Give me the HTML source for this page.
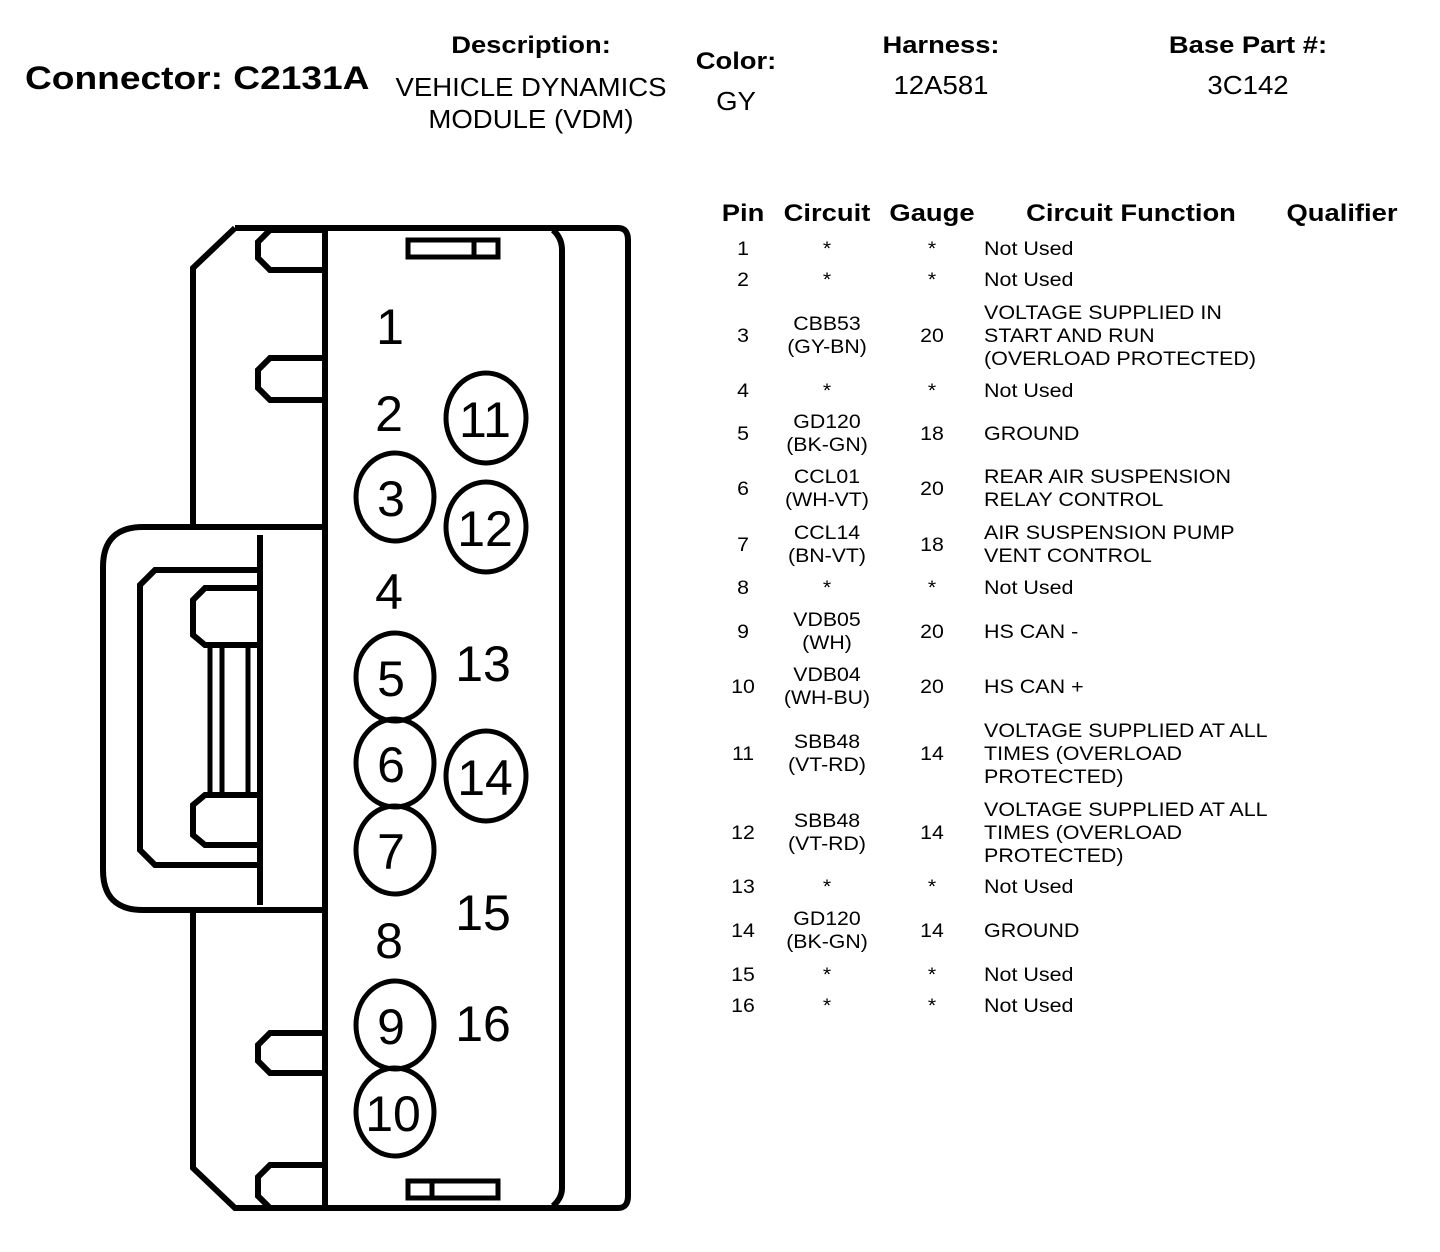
<!DOCTYPE html>
<html><head><style>
body{margin:0;background:#fff;width:1440px;height:1252px;position:relative;font-family:"Liberation Sans",sans-serif;color:#000;overflow:hidden}
.t{position:absolute;white-space:nowrap;line-height:1}
.b{font-weight:bold}
.c{transform:translateX(-50%) scaleX(1.14);text-align:center}
.c2{transform:translateX(-50%) scaleX(1.06);text-align:center}
.l{transform-origin:0 0;transform:scaleX(1.16)}
.r{position:absolute;font-size:19px;line-height:23px;white-space:nowrap}
</style></head><body>
<div class="t b l" style="left:25px;top:62px;font-size:32px">Connector: C2131A</div>
<div class="t b c" style="left:531px;top:34px;font-size:24px">Description:</div>
<div class="t c2" style="left:531px;top:71px;font-size:26px;line-height:32px">VEHICLE DYNAMICS<br>MODULE (VDM)</div>
<div class="t b c" style="left:736px;top:50px;font-size:24px">Color:</div>
<div class="t c2" style="left:736px;top:88px;font-size:26px">GY</div>
<div class="t b c" style="left:941px;top:34px;font-size:24px">Harness:</div>
<div class="t c2" style="left:941px;top:72px;font-size:26px">12A581</div>
<div class="t b c" style="left:1248px;top:34px;font-size:24px">Base Part #:</div>
<div class="t c2" style="left:1248px;top:72px;font-size:26px">3C142</div>

<svg style="position:absolute;left:0;top:0" width="700" height="1252" fill="none" stroke="#000" stroke-width="6">
<path d="M235,228 H618 Q628,228 628,240 V1196 Q628,1208 618,1208 H235 L193,1168 V910 M193,527 V268 L235,228"/>
<line x1="325" y1="228" x2="325" y2="1208"/>
<path d="M553,230 Q562,238 562,250 V1188 Q562,1198 553,1206"/>
<path d="M325,527 H143 Q103,527 103,567 V870 Q103,910 143,910 H325"/>
<path d="M260,535 V905 M260,570 H155 L140,585 V850 L155,865 H260"/>
<path d="M260,588 H205 L193,600 V635 L205,645 H260 M260,795 H205 L193,805 V835 L205,845 H260"/>
<path d="M210,645 V795 M222,645 V795 M248,645 V795" stroke-width="5"/>
<path d="M325,230 H270 L258,242 V258 L270,270 H325 M325,358 H270 L258,370 V388 L270,400 H325 M325,1033 H270 L258,1045 V1061 L270,1073 H325 M325,1165 H270 L258,1177 V1196 L270,1208"/>
<rect x="408" y="240" width="90" height="17" stroke-width="5"/><line x1="474" y1="240" x2="474" y2="257" stroke-width="5"/>
<rect x="408" y="1181" width="90" height="17" stroke-width="5"/><line x1="432" y1="1181" x2="432" y2="1198" stroke-width="5"/>
<g stroke-width="5">
<ellipse cx="395" cy="497" rx="39" ry="44"/>
<ellipse cx="486" cy="418" rx="40" ry="45"/>
<ellipse cx="486" cy="527" rx="40" ry="45"/>
<ellipse cx="395" cy="677" rx="39" ry="44"/>
<ellipse cx="395" cy="763" rx="39" ry="44"/>
<ellipse cx="486" cy="776" rx="40" ry="45"/>
<ellipse cx="395" cy="850" rx="39" ry="44"/>
<ellipse cx="395" cy="1025" rx="39" ry="44"/>
<ellipse cx="395" cy="1112" rx="39" ry="44"/>
</g>
<g fill="#000" stroke="none" font-family="Liberation Sans, sans-serif" font-size="50" text-anchor="middle">
<text x="390" y="344">1</text><text x="389" y="431">2</text><text x="391" y="516">3</text>
<text x="389" y="609">4</text><text x="391" y="696">5</text><text x="391" y="782">6</text>
<text x="391" y="869">7</text><text x="389" y="958">8</text><text x="391" y="1044">9</text>
<text x="393" y="1131">10</text><text x="485" y="437">11</text><text x="485" y="546">12</text>
<text x="483" y="681">13</text><text x="485" y="795">14</text><text x="483" y="930">15</text><text x="483" y="1041">16</text>
</g>
</svg>

<div class="t b c" style="left:743px;top:202px;font-size:24px">Pin</div>
<div class="t b c" style="left:827px;top:202px;font-size:24px">Circuit</div>
<div class="t b c" style="left:932px;top:202px;font-size:24px">Gauge</div>
<div class="t b c" style="left:1131px;top:202px;font-size:24px">Circuit Function</div>
<div class="t b c" style="left:1342px;top:202px;font-size:24px">Qualifier</div>

<div id="rows"></div>
<script>
var R=[
[249,"1","*","*","Not Used"],
[280,"2","*","*","Not Used"],
[336,"3","CBB53<br>(GY-BN)","20","VOLTAGE SUPPLIED IN<br>START AND RUN<br>(OVERLOAD PROTECTED)"],
[391,"4","*","*","Not Used"],
[434,"5","GD120<br>(BK-GN)","18","GROUND"],
[489,"6","CCL01<br>(WH-VT)","20","REAR AIR SUSPENSION<br>RELAY CONTROL"],
[545,"7","CCL14<br>(BN-VT)","18","AIR SUSPENSION PUMP<br>VENT CONTROL"],
[588,"8","*","*","Not Used"],
[632,"9","VDB05<br>(WH)","20","HS CAN -"],
[687,"10","VDB04<br>(WH-BU)","20","HS CAN +"],
[754,"11","SBB48<br>(VT-RD)","14","VOLTAGE SUPPLIED AT ALL<br>TIMES (OVERLOAD<br>PROTECTED)"],
[833,"12","SBB48<br>(VT-RD)","14","VOLTAGE SUPPLIED AT ALL<br>TIMES (OVERLOAD<br>PROTECTED)"],
[887,"13","*","*","Not Used"],
[931,"14","GD120<br>(BK-GN)","14","GROUND"],
[975,"15","*","*","Not Used"],
[1006,"16","*","*","Not Used"]];
var h="";
R.forEach(function(r){
 function cell(x,txt,center){var n=txt.split("<br>").length;var top=r[0]-n*23/2;
  return '<div class="r" style="left:'+x+'px;top:'+top+'px;'+(center?'transform:translateX(-50%) scaleX(1.12);text-align:center':'transform-origin:0 0;transform:scaleX(1.13)')+'">'+txt+'</div>';}
 h+=cell(743,r[1],1)+cell(827,r[2],1)+cell(932,r[3],1)+cell(984,r[4],0);
});
document.getElementById("rows").innerHTML=h;
</script>
</body></html>
